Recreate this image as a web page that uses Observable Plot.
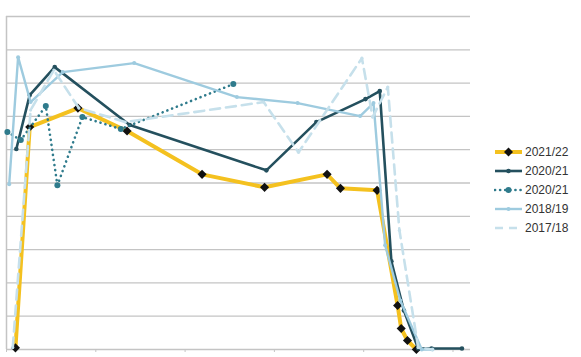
<!DOCTYPE html>
<html>
<head>
<meta charset="utf-8">
<script src="https://cdn.jsdelivr.net/npm/d3@7"></script>
<script src="https://cdn.jsdelivr.net/npm/@observablehq/plot@0.6"></script>
<style>
  html, body { margin: 0; padding: 0; background: #fff; }
  #wrap { position: relative; width: 581px; height: 357px; }
  #legend { position: absolute; left: 494px; top: 142px; font-family: "Liberation Sans", Arial, sans-serif; font-size: 12px; color: #333; }
  .item { display: flex; align-items: center; height: 19px; }
  .item svg { margin-right: 2px; }
</style>
</head>
<body>
<div id="wrap"><div id="chart"></div><div id="legend"></div></div>
<script>
// Series names (legend order)
const seriesNames = ["2021/22", "2020/21", "2020/21 ", "2018/19", "2017/18"];

// 2021/22
const x2122 = [0.10, 0.26, 0.80, 1.35, 2.19, 2.89, 3.59, 3.74, 4.15, 4.38, 4.42, 4.49, 4.59];
const y2122 = [0.05, 6.68, 7.25, 6.56, 5.26, 4.87, 5.26, 4.84, 4.78, 1.32, 0.63, 0.27, 0.00];
// 2020/21 (solid)
const x2021a = [0.11, 0.26, 0.54, 1.38, 2.91, 3.47, 4.02, 4.18, 4.31, 4.45, 4.61, 4.76, 5.10];
const y2021a = [6.02, 7.64, 8.48, 6.74, 5.38, 6.83, 7.52, 7.76, 2.65, 1.17, 0.03, 0.03, 0.03];
// 2020/21 (dotted)
const x2021b = [0.01, 0.16, 0.44, 0.57, 0.85, 1.28, 2.54];
const y2021b = [6.53, 6.29, 7.31, 4.93, 6.98, 6.62, 7.97];
// 2018/19
const x1819 = [0.03, 0.13, 0.27, 0.63, 1.43, 2.58, 3.26, 3.96, 4.11, 4.24, 4.41, 4.65, 4.77];
const y1819 = [4.96, 8.78, 7.43, 8.33, 8.60, 7.58, 7.40, 7.01, 7.40, 3.13, 1.47, 0.00, 0.00];
// 2017/18
const x1718 = [0.07, 0.27, 0.53, 0.81, 1.33, 2.88, 3.27, 3.98, 4.10, 4.27, 4.40, 4.61, 4.77];
const y1718 = [0.06, 7.19, 8.39, 7.25, 6.83, 7.43, 5.92, 8.75, 6.98, 7.88, 3.58, 0.06, 0.00];

const xTicks = [0, 1, 2, 3, 4, 5];
const yGrid = [1, 2, 3, 4, 5, 6, 7, 8, 9, 10];

const toRows = (xs, ys) => xs.map((x, i) => ({x, y: ys[i]}));
const s2122 = toRows(x2122, y2122);
const s2021a = toRows(x2021a, y2021a);
const s2021b = toRows(x2021b, y2021b);
const s1819 = toRows(x1819, y1819);
const s1718 = toRows(x1718, y1718);

const C = {
  yellow: "#f4c11f",
  dark: "#24505e",
  teal: "#2f7b8c",
  light: "#9ecbdf",
  pale: "#c6e0eb",
  grid: "#c4c4c4"
};

const chart = Plot.plot({
  width: 581,
  height: 357,
  marginTop: 16,
  marginRight: 111,
  marginBottom: 8,
  marginLeft: 6,
  x: {domain: [0, 5.196], axis: null},
  y: {domain: [0, 10], axis: null},
  marks: [
    Plot.ruleY(yGrid, {stroke: C.grid, strokeWidth: 1.3}),
    Plot.ruleY([0], {stroke: C.grid, strokeWidth: 1.5}),
    Plot.ruleX([0], {stroke: C.grid, strokeWidth: 1.5}),
    Plot.ruleX(xTicks, {x: d => d, y1: 0, y2: 0, stroke: C.grid, strokeWidth: 1, insetBottom: -3}),
    // 2021/22
    Plot.line(s2122, {x: "x", y: "y", stroke: C.yellow, strokeWidth: 4, strokeLinejoin: "round"}),
    Plot.dot(s2122, {x: "x", y: "y", symbol: "diamond2", r: 4.1, fill: "#111", stroke: "none"}),
    // 2020/21 solid
    Plot.line(s2021a, {x: "x", y: "y", stroke: C.dark, strokeWidth: 2.6, strokeLinejoin: "round"}),
    Plot.dot(s2021a, {x: "x", y: "y", r: 2.3, fill: C.dark, stroke: "none"}),
    // 2020/21 dotted
    Plot.line(s2021b, {x: "x", y: "y", stroke: C.teal, strokeWidth: 2.6, strokeDasharray: "0.1 5", strokeLinecap: "round"}),
    Plot.dot(s2021b, {x: "x", y: "y", r: 3, fill: C.teal, stroke: "none"}),
    // 2018/19
    Plot.line(s1819, {x: "x", y: "y", stroke: C.light, strokeWidth: 2.4, strokeLinejoin: "round"}),
    Plot.dot(s1819, {x: "x", y: "y", r: 2, fill: C.light, stroke: "none"}),
    // 2017/18
    Plot.line(s1718, {x: "x", y: "y", stroke: C.pale, strokeWidth: 2.6, strokeDasharray: "10 6"}),
    Plot.dot(s1718, {x: "x", y: "y", r: 1.6, fill: C.pale, stroke: "none"})
  ]
});
document.getElementById("chart").appendChild(chart);

// Legend
const legendSpecs = [
  {name: seriesNames[0], color: C.yellow, w: 4, dash: null, marker: "diamond", mcolor: "#111"},
  {name: seriesNames[1], color: C.dark, w: 2.6, dash: null, marker: "circle", mcolor: C.dark, mr: 2.3},
  {name: seriesNames[2], color: C.teal, w: 2.6, dash: "0.1 5", marker: "circle", mcolor: C.teal, mr: 3},
  {name: seriesNames[3], color: C.light, w: 2.4, dash: null, marker: "circle", mcolor: C.light, mr: 2},
  {name: seriesNames[4], color: C.pale, w: 2.6, dash: "8 6", marker: null}
];
const legend = document.getElementById("legend");
for (const s of legendSpecs) {
  const item = document.createElement("div");
  item.className = "item";
  const ns = "http://www.w3.org/2000/svg";
  const svg = document.createElementNS(ns, "svg");
  svg.setAttribute("width", 29); svg.setAttribute("height", 12);
  const ln = document.createElementNS(ns, "line");
  ln.setAttribute("x1", 1); ln.setAttribute("x2", 28); ln.setAttribute("y1", 6); ln.setAttribute("y2", 6);
  ln.setAttribute("stroke", s.color); ln.setAttribute("stroke-width", s.w);
  if (s.dash) { ln.setAttribute("stroke-dasharray", s.dash); ln.setAttribute("stroke-linecap", s.dash.startsWith("0.1") ? "round" : "butt"); }
  svg.appendChild(ln);
  if (s.marker === "diamond") {
    const p = document.createElementNS(ns, "path");
    p.setAttribute("d", "M14.5,1.5 L19,6 L14.5,10.5 L10,6 Z");
    p.setAttribute("fill", s.mcolor);
    svg.appendChild(p);
  } else if (s.marker === "circle") {
    const c = document.createElementNS(ns, "circle");
    c.setAttribute("cx", 14.5); c.setAttribute("cy", 6); c.setAttribute("r", s.mr);
    c.setAttribute("fill", s.mcolor);
    svg.appendChild(c);
  }
  item.appendChild(svg);
  const t = document.createElement("span");
  t.textContent = s.name.trim();
  item.appendChild(t);
  legend.appendChild(item);
}
</script>
</body>
</html>
